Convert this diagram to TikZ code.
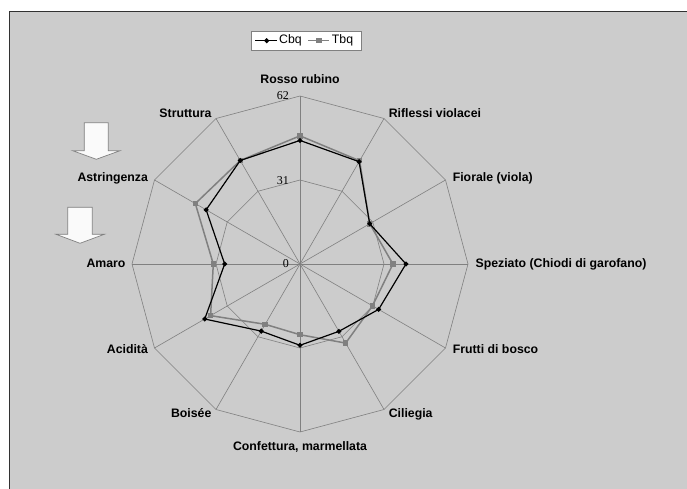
\documentclass[tikz,border=0pt]{standalone}
\usepackage{fontspec}
\setmainfont{Liberation Sans}
\newfontfamily\numfont{Liberation Serif}
\usetikzlibrary{shapes.geometric}
\definecolor{bgc}{RGB}{204,204,204}
\definecolor{framec}{RGB}{50,50,50}
\definecolor{gridc}{RGB}{128,128,128}
\definecolor{tbqc}{RGB}{128,128,128}
\definecolor{arrfill}{RGB}{250,250,250}
\tikzset{
  gridline/.style={draw=gridc, line width=0.6pt},
  cbqline/.style={draw=black, line width=1.2pt, line join=round},
  tbqline/.style={draw=tbqc, line width=1.5pt, line join=round},
  cbqmark/.style={diamond, fill=black, inner sep=0pt, minimum width=5.5pt, minimum height=5.5pt},
  tbqmark/.style={rectangle, fill=tbqc, inner sep=0pt, minimum size=5.5pt},
  axlabel/.style={font=\fontsize{12.3}{14}\selectfont\bfseries, inner sep=0pt, text height=8.8pt, text depth=2.4pt},
  numlabel/.style={font=\numfont\fontsize{12}{14}\selectfont, inner sep=0pt, anchor=east},
  legtext/.style={font=\fontsize{12.3}{14}\selectfont, inner sep=0pt, anchor=west, text height=8.8pt, text depth=2.4pt},
  blockarrow/.style={fill=arrfill, draw=gridc, line width=0.7pt, line join=miter}
}
\begin{document}
\begin{tikzpicture}[x=1pt,y=-1pt]
\useasboundingbox (0,0) rectangle (687,489);
\fill[white] (0,0) rectangle (687,489);
\fill[bgc] (9.5,11.5) rectangle (687,489);
\draw[framec, line width=1.4pt] (9.5,489) -- (9.5,11.5) -- (687,11.5);

\begin{scope}[shift={(300,264)}]
  \coordinate (c) at (0,0);
  \foreach \i in {0,...,11} {
    \coordinate (o\i) at (30*\i-90:168);
    \coordinate (m\i) at (30*\i-90:84);
  }
  \draw[gridline] (o0) \foreach \i in {1,...,11} { -- (o\i) } -- cycle;
  \draw[gridline] (m0) \foreach \i in {1,...,11} { -- (m\i) } -- cycle;
  \foreach \i in {0,...,11} { \draw[gridline] (c) -- (o\i); }

  \foreach \v [count=\i from 0] in {47.3,44.0,29.7,34.3,30.9,33.7,26.1,25.7,38.1,32.0,44.6,44.1}
    \coordinate (T\i) at (30*\i-90:\v*168/62);
  \foreach \v [count=\i from 0] in {45.6,43.6,29.7,39.1,33.5,28.7,30.0,28.6,40.6,27.8,40.0,44.1}
    \coordinate (C\i) at (30*\i-90:\v*168/62);

  \draw[tbqline] (T0) \foreach \i in {1,...,11} { -- (T\i) } -- cycle;
  \foreach \i in {0,...,11} \node[tbqmark] (tm\i) at (T\i) {};
  \draw[cbqline] (C0) \foreach \i in {1,...,11} { -- (C\i) } -- cycle;
  \foreach \i in {0,...,11} \node[cbqmark] (cm\i) at (C\i) {};
\end{scope}

% numbers
\node[numlabel] (n62) at (289,96) {62};
\node[numlabel] (n31) at (289,180.5) {31};
\node[numlabel] (n0) at (289,264) {0};

% axis labels
\node[axlabel, anchor=center] (l0) at (300,80.7) {Rosso rubino};
\node[axlabel, anchor=west] (l1) at (388.6,114.3) {Riflessi violacei};
\node[axlabel, anchor=west] (l2) at (452.6,178.3) {Fiorale (viola)};
\node[axlabel, anchor=west] (l3) at (475.4,264.3) {Speziato (Chiodi di garofano)};
\node[axlabel, anchor=west] (l4) at (452.6,350.7) {Frutti di bosco};
\node[axlabel, anchor=west] (l5) at (388.6,414.3) {Ciliegia};
\node[axlabel, anchor=center] (l6) at (300,447.7) {Confettura, marmellata};
\node[axlabel, anchor=east] (l7) at (211.6,414.3) {Boisée};
\node[axlabel, anchor=east] (l8) at (148.1,350.7) {Acidità};
\node[axlabel, anchor=east] (l9) at (125.7,264.3) {Amaro};
\node[axlabel, anchor=east] (l10) at (148.1,178.3) {Astringenza};
\node[axlabel, anchor=east] (l11) at (211.6,114.3) {Struttura};

% legend
\node[draw=gridc, fill=white, line width=0.6pt, minimum width=110pt, minimum height=19pt, inner sep=0pt] (leg) at (306,40.5) {};
\coordinate (la) at (255,40.7);
\coordinate (lb) at (276.7,40.7);
\draw[cbqline] (la) -- (lb);
\node[cbqmark] (legc) at (266.7,40.7) {};
\node[legtext] (legct) at (279,40.7) {Cbq};
\coordinate (lc) at (308,40.7);
\coordinate (ld) at (329,40.7);
\draw[tbqline] (lc) -- (ld);
\node[tbqmark] (legt) at (319,40.7) {};
\node[legtext] (legtt) at (331.7,40.7) {Tbq};

% block arrows
\draw[blockarrow] (84.3,122.7) -- (108.3,122.7) -- (108.3,150.7) -- (120,150.7) -- (96.3,159.3) -- (72.7,150.7) -- (84.3,150.7) -- cycle;
\draw[blockarrow] (67.7,207.3) -- (92.3,207.3) -- (92.3,234.3) -- (104.3,234.3) -- (80,243.3) -- (56,234.3) -- (67.7,234.3) -- cycle;
\end{tikzpicture}
\end{document}
